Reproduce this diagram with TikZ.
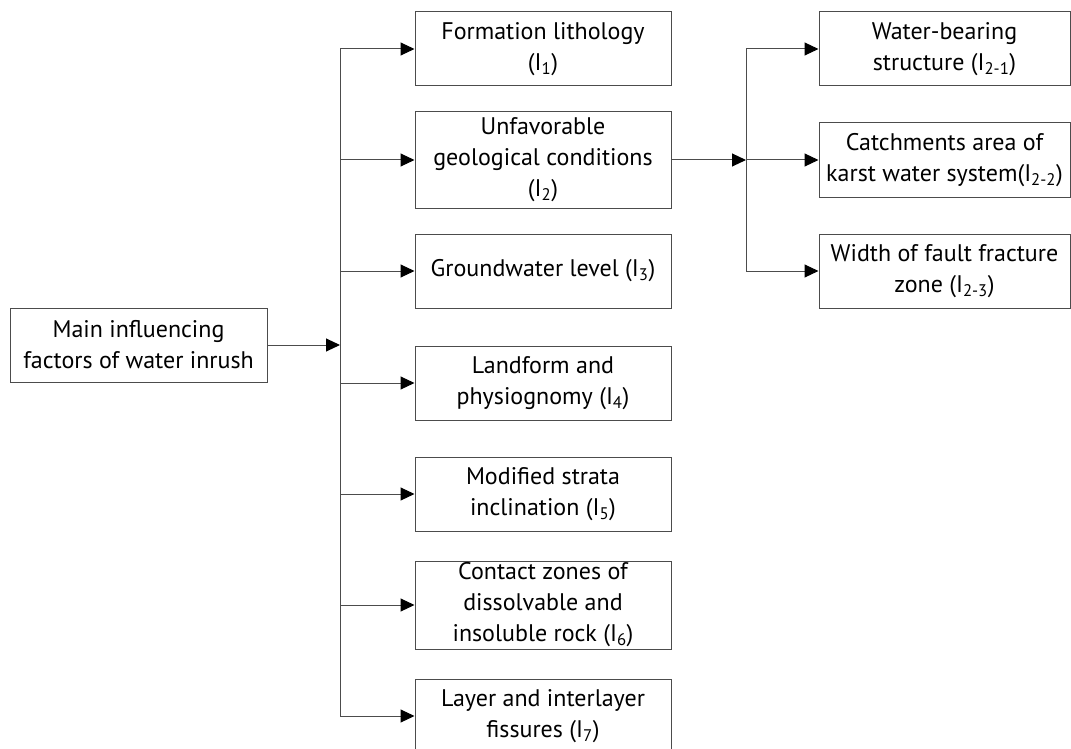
\documentclass[tikz,border=0pt]{standalone}
\usepackage{fontspec}
\setmainfont{PT Sans}
\usepackage{tikz}
\usetikzlibrary{arrows.meta}

\tikzset{
    factor/.style={draw=black!70, line width=1pt, align=center, inner sep=0pt,
        minimum height=74pt, font=\fontsize{24}{31}\selectfont},
    link/.style={draw=black!70, line width=1pt},
    tip/.style={link, -{Triangle[length=14pt,width=13pt,color=black]}}
}

\begin{document}
\begin{tikzpicture}[x=1pt,y=-1pt]
        \useasboundingbox (0,0) rectangle (1071,749);

        \node[factor, minimum width=257pt] (main) at (138.5,345) {Main influencing\\factors of water inrush};

        \node[factor, minimum width=256pt] (i1) at (543,49) {Formation lithology\\(I\textsubscript{1})};
        \node[factor, minimum width=256pt, minimum height=96pt] (i2) at (543,160) {Unfavorable\\geological conditions\\(I\textsubscript{2})};
        \node[factor, minimum width=256pt] (i3) at (543,271) {Groundwater level (I\textsubscript{3})};
        \node[factor, minimum width=256pt] (i4) at (543,383) {Landform and\\physiognomy (I\textsubscript{4})};
        \node[factor, minimum width=256pt] (i5) at (543,494) {Modified strata\\inclination (I\textsubscript{5})};
        \node[factor, minimum width=256pt, minimum height=88pt] (i6) at (543,605) {Contact zones of\\dissolvable and\\insoluble rock (I\textsubscript{6})};
        \node[factor, minimum width=256pt] (i7) at (543,716) {Layer and interlayer\\fissures (I\textsubscript{7})};

        \node[factor, minimum width=251pt] (i21) at (944.5,49) {Water-bearing\\structure (I\textsubscript{2-1})};
        \node[factor, minimum width=251pt] (i22) at (944.5,160) {Catchments area of\\karst water system(I\textsubscript{2-2})};
        \node[factor, minimum width=251pt] (i23) at (944.5,271) {Width of fault fracture\\zone (I\textsubscript{2-3})};

        % first level
        \coordinate (bus) at (340,345);
        \draw[tip] (main.east) -- (bus);
        \draw[link] (bus |- i1.west) -- (bus |- i7.west);
        \foreach \n in {i1,i2,i3,i4,i5,i6,i7}
            \draw[tip] (bus |- \n.west) -- (\n.west);

        % second level
        \coordinate (subbus) at (746,160);
        \draw[tip] (i2.east) -- (subbus);
        \draw[link] (subbus |- i21.west) -- (subbus |- i23.west);
        \foreach \n in {i21,i22,i23}
            \draw[tip] (subbus |- \n.west) -- (\n.west);
    \end{tikzpicture}
\end{document}
